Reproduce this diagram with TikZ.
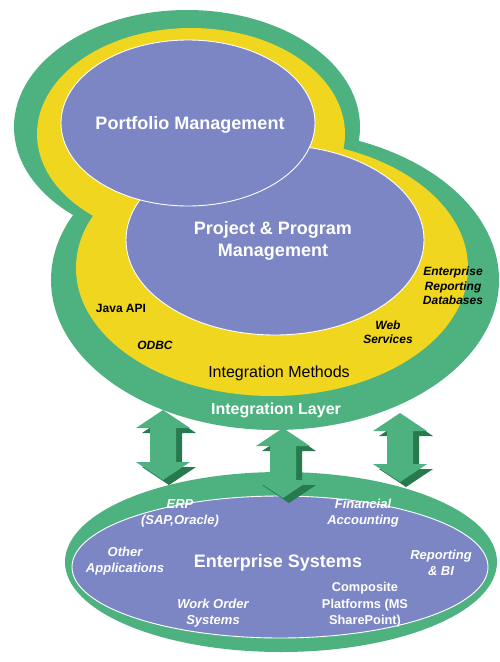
\documentclass[tikz,border=0pt]{standalone}
\usepackage{fontspec}
\setmainfont{Liberation Sans}
\definecolor{lgreen}{RGB}{78,178,128}
\definecolor{dgreen}{RGB}{38,122,78}
\definecolor{ayellow}{RGB}{240,214,30}
\definecolor{apurple}{RGB}{124,134,196}
\tikzset{
  greenfill/.style={fill=lgreen, draw=none},
  yellowfill/.style={fill=ayellow, draw=none},
  purplebox/.style={fill=apurple, draw=white, line width=0.9pt},
  bigwhite/.style={text=white, font=\bfseries\fontsize{18}{22}\selectfont, align=center, inner sep=0pt},
  midwhite/.style={text=white, font=\bfseries\fontsize{16}{19}\selectfont, inner sep=0pt},
  blacklab/.style={text=black, font=\fontsize{12.5}{14.5}\selectfont, align=center, inner sep=0pt},
  blackit/.style={text=black, font=\bfseries\itshape\fontsize{12}{14.5}\selectfont, align=center, inner sep=0pt},
  whiteit/.style={text=white, font=\bfseries\itshape\fontsize{13}{16}\selectfont, align=center, inner sep=0pt},
  whitelab/.style={text=white, font=\bfseries\fontsize{12.8}{16.5}\selectfont, align=center, inner sep=0pt},
}
% block double arrow: #1 centre x, #2 top tip y, #3 bottom tip y
\newcommand{\blockarrowpath}[3]{%
  (#1,#2) -- ++(27,18) -- ++(-14,0) -- (#1+13,#3-18) -- ++(14,0) -- (#1,#3)
  -- ++(-27,-18) -- ++(14,0) -- (#1-13,#2+18) -- ++(-14,0) -- cycle}
\newcommand{\blockarrow}[3]{%
  \fill[dgreen, shift={(6,5)}] \blockarrowpath{#1}{#2}{#3};
  \fill[lgreen] \blockarrowpath{#1}{#2}{#3};}
\begin{document}
\begin{tikzpicture}[x=1pt, y=-1pt]
\useasboundingbox (0,0) rectangle (499,662);
\fill[white] (0,0) rectangle (499,662);
% upper integration shape
\fill[greenfill] (187,127) ellipse [x radius=173, y radius=117];
\fill[greenfill] (275,280) ellipse [x radius=224, y radius=150];
\fill[yellowfill] (191,134) ellipse [x radius=154, y radius=106];
\fill[yellowfill] (272,268) ellipse [x radius=196, y radius=128];
\draw[purplebox] (275,240) ellipse [x radius=149, y radius=95];
\draw[purplebox] (188,123) ellipse [x radius=127, y radius=83];
% lower enterprise ellipse
\fill[greenfill] (281,562) ellipse [x radius=216, y radius=90];
\draw[purplebox] (280,567) ellipse [x radius=208, y radius=71];
% arrows
\blockarrow{163}{410}{480}
\blockarrow{283}{428}{498}
\blockarrow{400}{413}{482}
% texts
\node[bigwhite] (pm) at (190,125) {Portfolio Management};
\node[bigwhite] (ppm) at (273,241) {Project \& Program\\Management};
\node[blacklab, font=\fontsize{16}{19}\selectfont] (im) at (279,373) {Integration Methods};
\node[midwhite] (il) at (276,410) {Integration Layer};
\node[blacklab, font=\bfseries\fontsize{12}{14}\selectfont] (java) at (121,308) {Java API};
\node[blackit] (odbc) at (155,345) {ODBC};
\node[blackit, font=\bfseries\itshape\fontsize{12}{13.5}\selectfont] (web) at (388,332) {Web\\Services};
\node[blackit] (erd) at (453,286) {Enterprise\\Reporting\\Databases};
\node[bigwhite] (es) at (278,563) {Enterprise Systems};
\node[whiteit] (erp) at (180,513) {ERP\\(SAP,Oracle)};
\node[whiteit] (fa) at (363,513) {Financial\\Accounting};
\node[whiteit] (oa) at (125,561) {Other\\Applications};
\node[whiteit] (rbi) at (441,563) {Reporting\\\& BI};
\node[whitelab] (cp) at (365,605) {Composite\\Platforms (MS\\SharePoint)};
\node[whiteit] (wo) at (213,613) {Work Order\\Systems};
\end{tikzpicture}
\end{document}
